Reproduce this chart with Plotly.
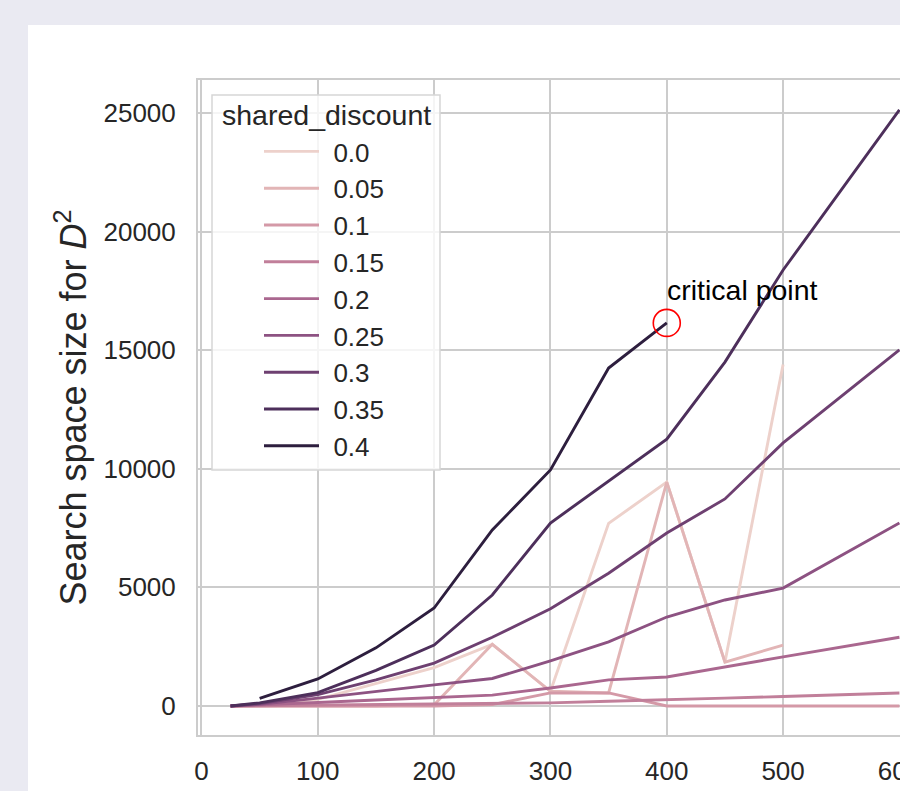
import numpy as np
import plotly.graph_objects as go

# ---- data ----
x_vals = [25, 50, 100, 150, 200, 250, 300, 350, 400, 450, 500, 600]
discount_labels = ["0.0", "0.05", "0.1", "0.15", "0.2", "0.25", "0.3", "0.35", "0.4"]
discount_values = [0.0, 0.05, 0.1, 0.15, 0.2, 0.25, 0.3, 0.35, 0.4]

s_000 = [0, 50, 280, 950, 1620, 2600, 620, 7700, 9440, 1850, 14400, None]
s_005 = [0, 0, 0, 0, 50, 2600, 620, 550, 9440, 1850, 2570, None]
s_010 = [0, 0, 0, 0, 0, 60, 550, 550, 0, 0, 0, 0]
s_015 = [0, 10, 40, 60, 80, 100, 130, 200, 250, 330, 400, 550]
s_020 = [0, 60, 150, 250, 340, 460, 760, 1100, 1220, 1650, 2070, 2900]
s_025 = [0, 70, 330, 620, 890, 1160, 1900, 2700, 3750, 4470, 4970, 7715]
s_030 = [0, 100, 480, 1100, 1810, 2900, 4100, 5600, 7290, 8730, 11090, 15010]
s_035 = [0, 130, 560, 1500, 2570, 4680, 7715, 9500, 11250, 14500, 18380, 25130]
s_040 = [None, 320, 1140, 2450, 4130, 7420, 9950, 14250, 16150, None, None, None]
series = [s_000, s_005, s_010, s_015, s_020, s_025, s_030, s_035, s_040]

critical_x = [400]
critical_y = [16150]
critical_label = "critical point"
legend_title = "shared_discount"

x_ticks = [0, 100, 200, 300, 400, 500, 600]
y_ticks = [0, 5000, 10000, 15000, 20000, 25000]


# ---- seaborn-like cubehelix colour map ----
def cubehelix(x, start=0.0, rot=0.4, gamma=1.0, hue=0.8):
    xg = x ** gamma
    a = hue * xg * (1 - xg) / 2
    phi = 2 * np.pi * (start / 3 + rot * x)
    r = xg + a * (-0.14861 * np.cos(phi) + 1.78277 * np.sin(phi))
    g = xg + a * (-0.29227 * np.cos(phi) - 0.90649 * np.sin(phi))
    b = xg + a * (1.97294 * np.cos(phi))
    rgb = [min(max(c, 0), 1) for c in (r, g, b)]
    return "rgb({},{},{})".format(*[int(round(c * 255)) for c in rgb])


vmin, vmax = min(discount_values), max(discount_values)
light, dark = 0.85, 0.15
colors = [cubehelix(light + (dark - light) * (v - vmin) / (vmax - vmin)) for v in discount_values]

FONT = "Liberation Sans, Arial, sans-serif"
TXT = "#262626"

# pixel helpers for the paper-referenced decorations
L, R, T, B = 198, 900, 80, 735
def px(xp):
    return (xp - L) / (R - L)
def py(yp):
    return (B - yp) / (B - T)

fig = go.Figure()
for lab, ys, col in zip(discount_labels, series, colors):
    fig.add_trace(go.Scatter(
        x=x_vals, y=ys, mode="lines", name="\u00a0\u200a" + lab,
        line=dict(color=col, width=2.9),
        connectgaps=False,
    ))

fig.add_trace(go.Scatter(
    x=critical_x, y=critical_y, mode="markers", showlegend=False,
    marker=dict(symbol="circle-open", size=27, color="red", line=dict(width=1.6, color="red")),
))

fig.add_annotation(
    x=critical_x[0], y=17550, xref="x", yref="y", text=critical_label,
    showarrow=False, xanchor="left", yanchor="middle", xshift=-2,
    font=dict(family=FONT, size=28.5, color="black"),
)

# white figure area (the reference shows the figure inset on a lavender page)
fig.add_shape(type="rect", xref="paper", yref="paper",
              x0=px(28), x1=1.2, y0=-0.2, y1=py(25),
              fillcolor="white", line=dict(width=0), layer="below")

# legend frame (semi-opaque, like matplotlib)
fig.add_shape(type="rect", xref="paper", yref="paper",
              x0=px(212), x1=px(440), y0=py(470), y1=py(95),
              fillcolor="rgba(255,255,255,0.8)", line=dict(width=1.5, color="#d6d6d6"),
              layer="above")
fig.add_annotation(
    x=px(326), y=py(115), xref="paper", yref="paper", text=legend_title,
    showarrow=False, xanchor="center", yanchor="middle",
    font=dict(family=FONT, size=28.5, color=TXT),
)

fig.update_layout(
    width=900, height=791,
    margin=dict(l=L, r=0, t=T, b=791 - B, autoexpand=False),
    paper_bgcolor="#eaeaf2",
    plot_bgcolor="white",
    font=dict(family=FONT, size=26, color=TXT),
    showlegend=True,
    legend=dict(
        x=px(259), y=py(128), xanchor="left", yanchor="top",
        bgcolor="rgba(0,0,0,0)", borderwidth=0,
        itemwidth=55,
        font=dict(family=FONT, size=26, color=TXT),
    ),
    xaxis=dict(
        range=[-3, 600.5], tickvals=x_ticks, ticktext=[str(t) for t in x_ticks],
        showgrid=True, gridcolor="#cccccc", gridwidth=1.6,
        showline=True, linecolor="#cccccc", linewidth=2, mirror=True,
        zeroline=False, ticks="", ticklabelstandoff=12,
        ticklabeloverflow="allow", automargin=False,
        tickfont=dict(family=FONT, size=26, color=TXT),
    ),
    yaxis=dict(
        range=[-1223, 26391], tickvals=y_ticks, ticktext=[str(t) for t in y_ticks],
        showgrid=True, gridcolor="#cccccc", gridwidth=1.6,
        showline=True, linecolor="#cccccc", linewidth=2, mirror=False,
        zeroline=False, ticks="", ticklabelstandoff=15, automargin=False,
        tickfont=dict(family=FONT, size=26, color=TXT),
        title=dict(text="Search space size for <i>D</i><sup>2</sup>",
                   font=dict(family=FONT, size=36, color=TXT), standoff=6),
    ),
)

fig.write_html("out.html")
